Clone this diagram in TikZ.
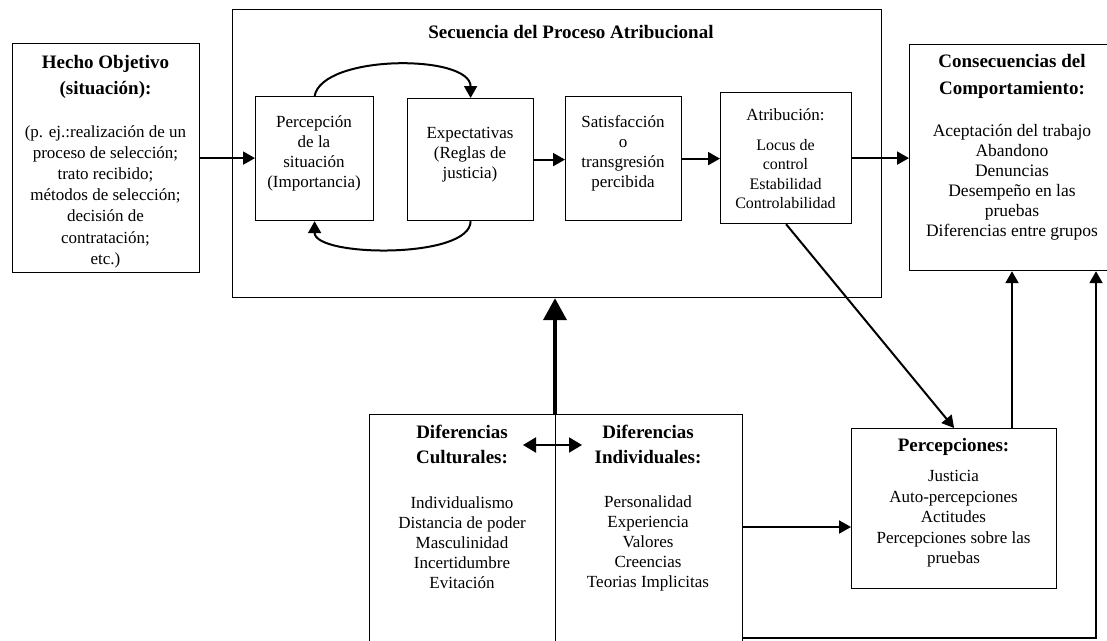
\documentclass[tikz,border=0pt]{standalone}
\usepackage{fontspec}
\setmainfont{Liberation Serif}
\usetikzlibrary{arrows.meta}

\tikzset{
  box/.style={draw, line width=1.2pt, anchor=north west, inner sep=0pt},
  ttl/.style={font=\fontsize{19}{26}\selectfont\bfseries, align=center, inner sep=0pt},
  bod/.style={font=\fontsize{17}{20.5}\selectfont, align=center, inner sep=0pt},
  small/.style={font=\fontsize{16}{19.5}\selectfont, align=center, inner sep=0pt},
  arr/.style={line width=2pt, -{Triangle[length=12pt,width=13pt]}},
  dblarr/.style={line width=2pt, {Triangle[length=13pt,width=15pt]}-{Triangle[length=13pt,width=15pt]}},
  bigarr/.style={line width=4pt, -{Triangle[length=22pt,width=23pt]}},
}

\begin{document}
\begin{tikzpicture}[x=1pt,y=-1pt]
\clip (0,0) rectangle (1107,640);
\fill[white] (0,0) rectangle (1107,640);

% boxes
\node[box, minimum width=187pt, minimum height=229pt] (hecho)  at (12,43) {};
\node[box, minimum width=649pt, minimum height=288pt] (secu)   at (232,9) {};
\node[box, minimum width=118pt, minimum height=124pt] (perc)   at (255,96) {};
\node[box, minimum width=126pt, minimum height=122pt] (expe)   at (407,98) {};
\node[box, minimum width=116pt, minimum height=124pt] (satis)  at (565,96) {};
\node[box, minimum width=131pt, minimum height=131pt] (atrib)  at (720,92) {};
\node[box, minimum width=206pt, minimum height=226pt] (consec) at (909,44) {};
\node[box, minimum width=186pt, minimum height=240pt] (cult)   at (369,414) {};
\node[box, minimum width=187pt, minimum height=240pt] (indiv)  at (555,414) {};
\node[box, minimum width=205pt, minimum height=160pt] (percep) at (851,428) {};

% texts
\node[ttl] (secuT) at (571,32) {Secuencia del Proceso Atribucional};

\node[ttl] (hechoT) at (105.5,76.5) {Hecho Objetivo\\(situación):};
\node[bod, font=\fontsize{17}{21.2}\selectfont] (hechoB) at (105.5,196.5)
  {(p. ej.:realización de un\\proceso de selección;\\trato recibido;\\métodos de selección;\\decisión de\\contratación;\\etc.)};

\node[bod, font=\fontsize{17}{20}\selectfont] (percT) at (314,153) {Percepción\\de la\\situación\\(Importancia)};
\node[bod, font=\fontsize{17}{20}\selectfont] (expeT) at (470,155) {Expectativas\\(Reglas de\\justicia)};
\node[bod, font=\fontsize{17}{20}\selectfont] (satisT) at (623,153) {Satisfacción\\o\\transgresión\\percibida};
\node[bod] (atribT) at (785.5,115) {Atribución:};
\node[small] (atribB) at (785.5,174) {Locus de\\control\\Estabilidad\\Controlabilidad};

\node[ttl, font=\fontsize{19}{27}\selectfont\bfseries] (consecT) at (1012,76.5) {Consecuencias del\\Comportamiento:};
\node[bod, font=\fontsize{17.5}{20}\selectfont] (consecB) at (1012,182)
  {Aceptación del trabajo\\Abandono\\Denuncias\\Desempeño en las\\pruebas\\Diferencias entre grupos};

\node[ttl, font=\fontsize{19}{25}\selectfont\bfseries] (cultT) at (462,444.5) {Diferencias\\Culturales:};
\node[bod, font=\fontsize{17}{20}\selectfont] (cultB) at (462,543)
  {Individualismo\\Distancia de poder\\Masculinidad\\Incertidumbre\\Evitación};

\node[ttl, font=\fontsize{19}{25}\selectfont\bfseries] (indivT) at (648,444.5) {Diferencias\\Individuales:};
\node[bod, font=\fontsize{17}{20}\selectfont] (indivB) at (648,543)
  {Personalidad\\Experiencia\\Valores\\Creencias\\Teorias Implicitas};

\node[ttl] (percepT) at (953.5,447) {Percepciones:};
\node[bod, font=\fontsize{17}{20.5}\selectfont] (percepB) at (953.5,519)
  {Justicia\\Auto-percepciones\\Actitudes\\Percepciones sobre las\\pruebas};

% helper points
\coordinate (dblL) at (523,445);
\coordinate (dblR) at (582,445);
\coordinate (ipA) at (742,527);
\coordinate (pcA) at (1012,428);
\coordinate (loopB) at (1096,638);

% sequence connectors
\draw[arr] (hecho.east) -- (perc.west |- hecho.east);
\draw[arr] (expe.east) -- (satis.west |- expe.east);
\draw[arr] (satis.east) -- (atrib.west |- satis.east);
\draw[arr] (atrib.east) -- (consec.west |- atrib.east);

% feedback loop between perception and expectations
\draw[arr] (perc.north) .. controls +(8,-42) and +(0,-44) .. (expe.north);
\draw[arr] (expe.south) .. controls +(0,38) and +(0,36) .. (perc.south);

% attribution to perceptions
\draw[arr] (atrib.south) -- (percep.north);

% perceptions to consequences
\draw[arr] (pcA) -- (pcA |- consec.south);

% differences to perceptions and consequences
\draw[arr] (ipA) -- (ipA -| percep.west);
\draw[arr] (indiv.east |- loopB) -- (loopB) -- (loopB |- consec.south);

% differences feed the attribution sequence
\draw[bigarr] (indiv.north west) -- (indiv.north west |- secu.south);

% cultural <-> individual
\draw[dblarr] (dblL) -- (dblR);
\end{tikzpicture}
\end{document}
